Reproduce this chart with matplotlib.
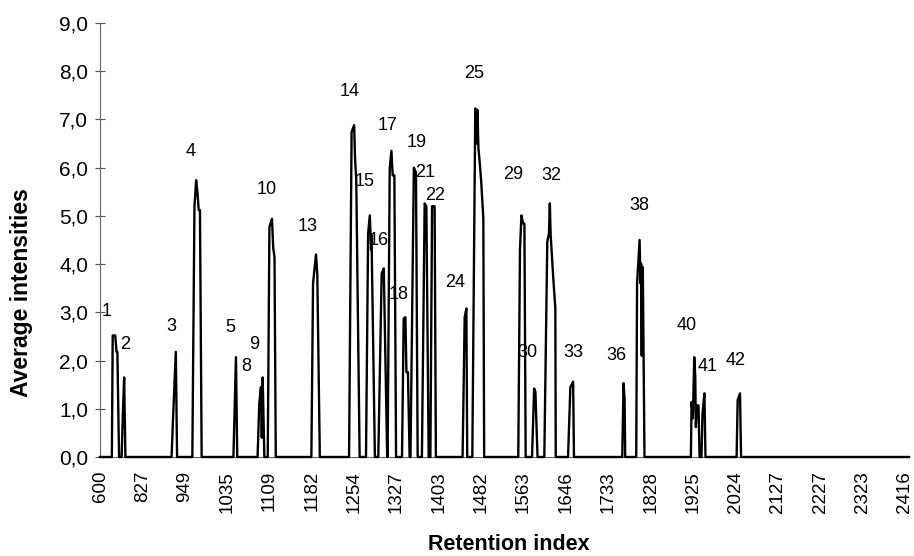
#!/usr/bin/env python

# Average intensities of the volatile peaks along the retention index axis
# (Excel style line chart: category axis, a label every 10 categories)

import matplotlib
import matplotlib.pyplot as plt
from matplotlib.ticker import FuncFormatter

matplotlib.use("Agg")
plt.rcParams['font.family'] = ['Liberation Sans', 'DejaVu Sans']

# x axis categories that carry a tick label
tick_labels = ["600", "827", "949", "1035", "1109", "1182", "1254", "1327", "1403", "1482",
               "1563", "1646", "1733", "1828", "1925", "2024", "2127", "2227", "2323", "2416"]
tick_step = 10
n_categories = 191

# the trace, category position -> average intensity (one block per peak)
x_pos = [0,
         2.8, 3.0, 3.6, 3.9, 4.1, 4.5,
         5.1, 5.4, 5.7, 6.0,
         16.9, 17.2, 17.9, 18.2,
         21.8, 22.3, 22.7, 23.0, 23.3, 23.6, 24.0,
         31.5, 32.1, 32.4,
         37.2, 37.6, 38.0, 38.2, 38.4, 38.8,
         39.6, 40.0, 40.6, 40.9, 41.2, 41.5,
         49.9, 50.3, 51.0, 51.3, 51.9,
         58.8, 59.4, 60.0, 60.2, 60.5, 61.3,
         62.8, 63.3, 63.7, 64.0, 64.1, 64.9,
         65.7, 66.5, 67.0, 67.8,
         67.9, 68.4, 68.8, 69.1, 69.5, 69.9,
         71.3, 71.7, 72.1, 72.35, 72.7, 73.1,
         73.3, 74.1, 74.6, 75.0,
         76.0, 76.65, 77.05, 77.6,
         78.0, 78.4, 79.0, 79.3,
         85.6, 86.1, 86.5, 86.7,
         87.9, 88.6, 88.9, 89.1, 89.35, 89.75, 90.0, 90.5, 90.7,
         98.75, 99.15, 99.5, 99.9, 100.2, 100.5,
         102.0, 102.5, 102.8, 103.3,
         104.9, 105.6, 106.0, 106.2, 106.4, 107.0, 107.5, 107.6,
         110.5, 111.05, 111.7, 111.9,
         123.3, 123.6, 123.85, 124.0,
         126.6, 126.8, 127.4, 127.6, 127.75, 127.9, 128.0, 128.15, 128.55,
         139.5, 139.67, 139.97, 140.3, 140.54, 140.68, 140.91, 141.3, 141.55,
         142.0, 142.25, 142.7, 142.95,
         150.3, 150.55, 151.1, 151.35,
         191]
intensity = [0,
             0, 2.52, 2.52, 2.18, 2.18, 0,
             0, 0.9, 1.65, 0,
             0, 0.7, 2.18, 0,
             0, 5.2, 5.74, 5.5, 5.12, 5.12, 0,
             0, 2.07, 0,
             0, 1.1, 1.45, 0.4, 1.65, 0,
             0, 4.77, 4.94, 4.33, 4.15, 0,
             0, 3.6, 4.2, 3.8, 0,
             0, 6.74, 6.88, 6.22, 5.74, 0,
             0, 4.63, 5.01, 4.3, 4.6, 0,
             0, 3.8, 3.91, 0,
             0, 5.98, 6.35, 5.84, 5.84, 0,
             0, 2.87, 2.9, 1.76, 1.76, 0,
             0, 6.0, 5.9, 0,
             0, 5.26, 5.2, 0,
             0, 5.2, 5.2, 0,
             0, 2.9, 3.08, 0,
             0, 7.23, 6.5, 7.2, 6.4, 6.0, 5.71, 4.95, 0,
             0, 4.3, 5.01, 4.84, 4.84, 0,
             0, 1.42, 1.35, 0,
             0, 4.46, 4.64, 5.26, 4.6, 3.73, 3.08, 0,
             0, 1.45, 1.56, 0,
             0, 1.53, 1.2, 0,
             0, 3.6, 4.5, 3.6, 4.01, 2.1, 3.94, 3.94, 0,
             0, 1.14, 0.8, 2.07, 1.66, 0.62, 1.07, 1.07, 0,
             0, 0.9, 1.32, 0,
             0, 1.18, 1.32, 0,
             0]

# peak numbers and where they sit (category position, intensity)
peak_ids = ["1", "2", "3", "4", "5", "8", "9", "10", "13", "14", "15", "16", "17", "18",
            "19", "21", "22", "24", "25", "29", "30", "32", "33", "36", "38", "40", "41", "42"]
label_x = [1.65, 6.0, 16.9, 21.4, 30.7, 34.45, 36.4, 39.3, 49.0, 59.0, 62.5, 65.8, 68.0, 70.5,
           74.65, 76.8, 79.2, 83.9, 88.4, 97.6, 100.9, 106.5, 111.7, 122.0, 127.4, 138.5, 143.5, 150.0]
label_y = [3.02, 2.34, 2.70, 6.34, 2.68, 1.87, 2.34, 5.55, 4.77, 7.57, 5.72, 4.48, 6.88, 3.37,
           6.53, 5.91, 5.43, 3.62, 7.96, 5.86, 2.17, 5.84, 2.17, 2.11, 5.22, 2.73, 1.88, 2.0]

fig = plt.figure(figsize=(9.14, 5.56), dpi=100)
ax = fig.add_axes([100 / 914, 1 - 457 / 556, 809 / 914, 434 / 556])

ax.plot(x_pos, intensity, color='black', linewidth=1.7, zorder=3, clip_on=False)

# peak labels go under the trace, as in the original
for pid, lx, ly in zip(peak_ids, label_x, label_y):
    ax.text(lx, ly, pid, fontsize=13, ha='center', va='center', zorder=1)

ax.set_xlim(0, n_categories)
ax.set_ylim(0, 9)

ax.set_xticks([i * tick_step for i in range(len(tick_labels))])
ax.set_xticklabels(tick_labels, rotation=90, fontsize=13.5, va='top')
ax.tick_params(axis='x', length=0, pad=10)

ax.set_yticks(range(0, 10))
ax.yaxis.set_major_formatter(FuncFormatter(lambda v, p: f"{v:.1f}".replace('.', ',')))
ax.tick_params(axis='y', direction='inout', length=7, width=0.8, color='#555555', pad=5, labelsize=15)

for side in ['top', 'right']:
    ax.spines[side].set_visible(False)
ax.spines['left'].set_color('#666666')
ax.spines['left'].set_linewidth(0.8)
ax.spines['bottom'].set_color('#666666')
ax.spines['bottom'].set_linewidth(0.8)

fig.text(22 / 914, 1 - 293 / 556, "Average intensities", rotation=90, ha='center', va='center',
         fontsize=16.5, fontweight='bold')
fig.text(509 / 914, 1 - 544 / 556, "Retention index", ha='center', va='center',
         fontsize=15.5, fontweight='bold')

fig.savefig("out.png", dpi=100)
